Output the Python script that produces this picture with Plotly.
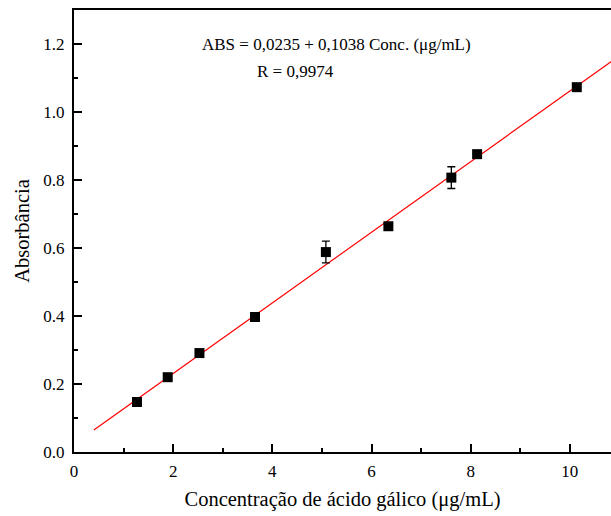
import plotly.graph_objects as go

conc = [1.27, 1.89, 2.53, 3.65, 5.08, 6.34, 7.61, 8.13, 10.14]
absorb = [0.147, 0.220, 0.291, 0.397, 0.588, 0.664, 0.807, 0.876, 1.073]
err = [0.004, 0.004, 0.004, 0.010, 0.032, 0.004, 0.032, 0.005, 0.005]

intercept = 0.0235
slope = 0.1038
fit_x = [0.4, 11.0]
fit_y = [intercept + slope * v for v in fit_x]

FONT = "Liberation Serif"

fig = go.Figure()
fig.add_trace(go.Scatter(
    x=fit_x, y=fit_y, mode="lines",
    line=dict(color="red", width=1.2), showlegend=False, hoverinfo="skip"))
fig.add_trace(go.Scatter(
    x=conc, y=absorb, mode="markers",
    marker=dict(symbol="square", size=10, color="black"),
    error_y=dict(type="data", array=err, visible=True, color="black",
                 thickness=1.3, width=4),
    showlegend=False))

fig.add_annotation(x=5.30, y=1.199, xref="x", yref="y",
                   text="ABS = 0,0235 + 0,1038 Conc. (μg/mL)", showarrow=False,
                   font=dict(family=FONT, size=17, color="black"))
fig.add_annotation(x=4.46, y=1.119, xref="x", yref="y",
                   text="R = 0,9974", showarrow=False,
                   font=dict(family=FONT, size=17, color="black"))

axis_common = dict(showline=True, linecolor="black", linewidth=2,
                   ticks="inside", ticklen=8, tickwidth=2, tickcolor="black",
                   showgrid=False, zeroline=False,
                   tickfont=dict(family=FONT, size=17, color="black"))

fig.update_xaxes(range=[0, 10.83], dtick=2, tick0=0, mirror=True,
                 ticklabelstandoff=3,
                 minor=dict(ticks="inside", ticklen=4, tickwidth=1.5,
                            tickcolor="black", dtick=1, showgrid=False),
                 title=dict(text="Concentração de ácido gálico (μg/mL)",
                            font=dict(family=FONT, size=20.5, color="black"),
                            standoff=11),
                 **axis_common)
fig.update_yaxes(range=[0, 1.3], dtick=0.2, tick0=0, tickformat=".1f",
                 ticklabelstandoff=4,
                 minor=dict(ticks="inside", ticklen=4, tickwidth=1.5,
                            tickcolor="black", dtick=0.1, showgrid=False),
                 title=dict(text="Absorbância",
                            font=dict(family=FONT, size=20.5, color="black"),
                            standoff=8),
                 **axis_common)

fig.update_layout(width=611, height=516,
                  margin=dict(l=74, r=0, t=10, b=64),
                  plot_bgcolor="white", paper_bgcolor="white")

fig.write_html("out.html")
